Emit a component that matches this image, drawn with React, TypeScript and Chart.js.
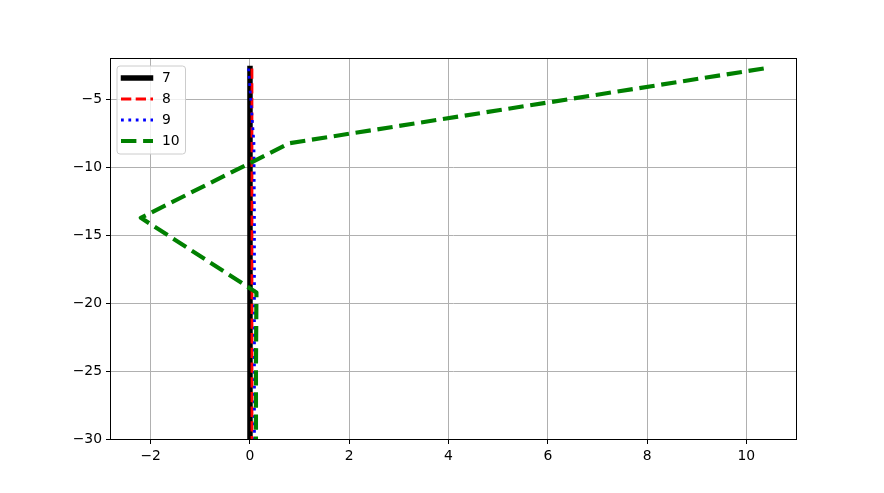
import React, { useEffect, useRef } from "react";
import { Chart, registerables } from "chart.js";

Chart.register(...registerables);

const depthLevels = [-2.7, -8.2, -13.7, -19.2, -24.7, -30.2, -35.7];
const series7 = [0, 0, 0, 0, 0, 0, 0];
const series8 = [0.04, 0.04, 0.04, 0.04, 0.04, 0.04, 0.04];
const series9 = [-0.03, 0.08, 0.09, 0.09, 0.09, 0.09, 0.09];
const series10 = [10.35, 0.8, -2.2, 0.13, 0.12, 0.12, 0.12];
const seriesNames = ["7", "8", "9", "10"];
const xTicks = [-2, 0, 2, 4, 6, 8, 10];
const yTicks = [-30, -25, -20, -15, -10, -5];

const FONT = "DejaVu Sans";

const fmt = (v: number) => (v < 0 ? "\u2212" + Math.abs(v) : String(v));

const styles = [
  { color: "#000000", width: 5.5, dash: [] as number[], cap: "square" },
  { color: "#ff0000", width: 2.78, dash: [10.3, 4.4], cap: "butt" },
  { color: "#0000ff", width: 2.78, dash: [2.78, 4.6], cap: "butt" },
  { color: "#008000", width: 4.17, dash: [15.4, 6.7], cap: "butt" },
];

const framePlugin = {
  id: "frame",
  afterDatasetsDraw(chart: any) {
    const { ctx, chartArea } = chart;
    ctx.save();
    ctx.strokeStyle = "#000";
    ctx.lineWidth = 1;
    ctx.setLineDash([]);
    ctx.strokeRect(
      Math.round(chartArea.left) - 0.5,
      Math.round(chartArea.top) - 0.5,
      Math.round(chartArea.right - chartArea.left) + 1,
      Math.round(chartArea.bottom - chartArea.top) + 1
    );
    // legend
    const x0 = 117, y0 = 66, w = 68.5, h = 88;
    const r = 3;
    ctx.beginPath();
    ctx.moveTo(x0 + r, y0);
    ctx.lineTo(x0 + w - r, y0);
    ctx.arcTo(x0 + w, y0, x0 + w, y0 + r, r);
    ctx.lineTo(x0 + w, y0 + h - r);
    ctx.arcTo(x0 + w, y0 + h, x0 + w - r, y0 + h, r);
    ctx.lineTo(x0 + r, y0 + h);
    ctx.arcTo(x0, y0 + h, x0, y0 + h - r, r);
    ctx.lineTo(x0, y0 + r);
    ctx.arcTo(x0, y0, x0 + r, y0, r);
    ctx.closePath();
    ctx.fillStyle = "rgba(255,255,255,0.8)";
    ctx.fill();
    ctx.strokeStyle = "#cccccc";
    ctx.stroke();
    const rows = [78, 99, 120, 141];
    seriesNames.forEach((name, i) => {
      const s = styles[i];
      ctx.beginPath();
      ctx.strokeStyle = s.color;
      ctx.lineWidth = s.width;
      ctx.setLineDash(s.dash);
      ctx.lineCap = i === 0 ? "square" : "butt";
      ctx.moveTo(i === 0 ? 123.5 : 121, rows[i]);
      ctx.lineTo(i === 0 ? 150.5 : 153, rows[i]);
      ctx.stroke();
      ctx.setLineDash([]);
      ctx.fillStyle = "#000";
      ctx.font = `13.9px "${FONT}"`;
      ctx.textBaseline = "middle";
      ctx.textAlign = "left";
      ctx.fillText(name, 162, rows[i] + 0.5);
    });
    ctx.restore();
  },
};

export default function App() {
  const ref = useRef<HTMLCanvasElement>(null);
  useEffect(() => {
    document.body.style.margin = "0";
    const all = [series7, series8, series9, series10];
    const datasets = all.map((xs, i) => ({
      label: seriesNames[i],
      data: xs.map((x, j) => ({ x, y: depthLevels[j] })),
      showLine: true,
      pointRadius: 0,
      borderColor: styles[i].color,
      backgroundColor: styles[i].color,
      borderWidth: styles[i].width,
      borderDash: styles[i].dash,
      borderCapStyle: styles[i].cap,
      borderJoinStyle: "round",
      fill: false,
      tension: 0,
      order: 4 - i,
    }));
    const chart = new Chart(ref.current!, {
      type: "scatter",
      data: { datasets: datasets as any },
      plugins: [framePlugin],
      options: {
        animation: false,
        responsive: false,
        layout: { padding: { top: 59, right: 88, left: 0, bottom: 0 } },
        plugins: { legend: { display: false }, tooltip: { enabled: false } },
        scales: {
          x: {
            type: "linear",
            min: -2.8,
            max: 11,
            afterBuildTicks: (s: any) => {
              s.ticks = xTicks.map((v) => ({ value: v }));
            },
            afterFit: (s: any) => {
              s.height = 54;
            },
            grid: {
              color: "#b0b0b0",
              lineWidth: 1,
              tickColor: "#000",
              tickLength: 5,
              drawTicks: true,
            },
            border: { display: false },
            ticks: {
              color: "#000",
              padding: 4,
              maxRotation: 0,
              autoSkip: false,
              font: { family: FONT, size: 13.9 },
              callback: (v: any) => fmt(Number(v)),
            },
          },
          y: {
            type: "linear",
            min: -30,
            max: -2.0,
            afterBuildTicks: (s: any) => {
              s.ticks = yTicks.map((v) => ({ value: v }));
            },
            afterFit: (s: any) => {
              s.width = 111;
            },
            grid: {
              color: "#b0b0b0",
              lineWidth: 1,
              tickColor: "#000",
              tickLength: 5,
            },
            border: { display: false },
            ticks: {
              color: "#000",
              padding: 4,
              autoSkip: false,
              font: { family: FONT, size: 13.9 },
              callback: (v: any) => fmt(Number(v)),
            },
          },
        },
      },
    });
    return () => chart.destroy();
  }, []);
  return (
    <div style={{ position: "fixed", left: 0, top: 0, width: 884, height: 493, background: "#fff" }}>
      <canvas ref={ref} width={884} height={493} />
    </div>
  );
}
